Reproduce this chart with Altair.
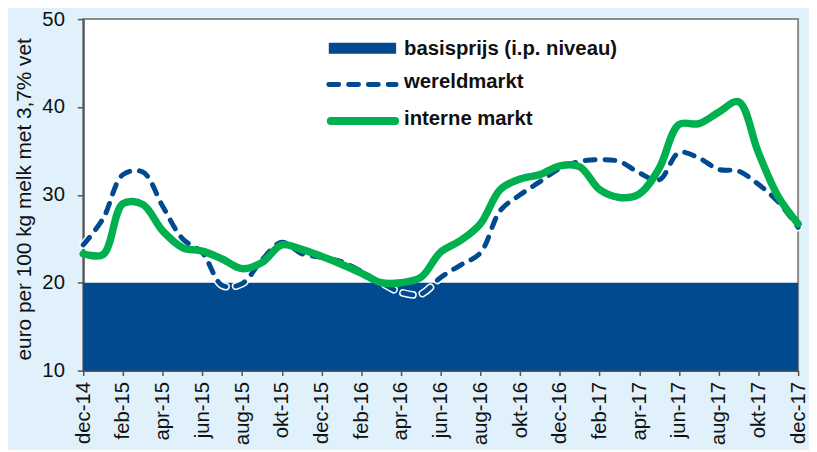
import json
import altair as alt
import pandas as pd

months = ["dec-14", "jan-15", "feb-15", "mrt-15", "apr-15", "mei-15", "jun-15", "jul-15",
          "aug-15", "sep-15", "okt-15", "nov-15", "dec-15", "jan-16", "feb-16", "mrt-16",
          "apr-16", "mei-16", "jun-16", "jul-16", "aug-16", "sep-16", "okt-16", "nov-16",
          "dec-16", "jan-17", "feb-17", "mrt-17", "apr-17", "mei-17", "jun-17", "jul-17",
          "aug-17", "sep-17", "okt-17", "nov-17", "dec-17"]

wereldmarkt = [24.3, 27.3, 32.3, 32.6, 28.7, 25.0, 23.4, 19.7, 19.9, 22.6, 24.6, 23.3, 22.9,
               22.4, 21.3, 20.0, 18.9, 18.7, 20.6, 22.0, 23.4, 28.2, 30.0, 31.5, 33.0, 33.8,
               34.0, 33.8, 32.5, 31.7, 34.8, 34.2, 32.9, 32.7, 31.2, 29.2, 26.3]

interne_markt = [23.3, 23.2, 29.0, 28.9, 25.9, 24.0, 23.6, 22.7, 21.6, 22.3, 24.3, 23.8, 23.0,
                 22.1, 21.1, 20.0, 20.0, 20.6, 23.5, 24.8, 26.7, 30.6, 31.8, 32.3, 33.3, 33.2,
                 30.6, 29.7, 30.1, 33.0, 38.0, 38.1, 39.4, 40.6, 34.8, 29.8, 26.7]

basisprijs = [20.0] * len(months)

legend_labels = ["basisprijs (i.p. niveau)", "wereldmarkt", "interne markt"]
y_title = "euro per 100 kg melk met 3,7% vet"

BLUE = "#014a8f"
GREEN = "#00b04f"
BG = "#e0f1fb"
FONT = "Liberation Sans"

df = pd.DataFrame({
    "i": list(range(len(months))),
    "month": months,
    "wereldmarkt": wereldmarkt,
    "interne": interne_markt,
    "basis": basisprijs,
})

label_expr = ("datum.value % 2 == 0 ? " + json.dumps(months) + "[datum.value] : ''")

x_enc = alt.X(
    "i:Q",
    scale=alt.Scale(domain=[0, len(months) - 1], nice=False, zero=False),
    axis=alt.Axis(
        values=list(range(len(months))),
        labelExpr=label_expr,
        labelAngle=270,
        labelAlign="right",
        labelBaseline="middle",
        labelPadding=6,
        tickSize=5,
        title=None,
        grid=False,
        labelOverlap=False,
        labelFontSize=20.5,
    ),
)
y_scale = alt.Scale(domain=[10, 50], nice=False, zero=False)
y_axis = alt.Axis(
    values=[10, 20, 30, 40, 50],
    tickSize=6,
    labelPadding=13,
    labelFontSize=20.5,
    grid=False,
    title=y_title,
    titleFontSize=21,
    titleFontWeight="normal",
    titleAngle=270,
    titleAlign="center",
    titleBaseline="middle",
    titleX=-59,
    titleY=181.5,
)

base = alt.Chart(df)

area = base.mark_area(color=BLUE, opacity=1).encode(
    x=x_enc,
    y=alt.Y("basis:Q", scale=y_scale, axis=y_axis),
    y2=alt.datum(10),
)

dash_under = base.mark_line(
    color="white", strokeWidth=8, strokeDash=[10, 10], strokeCap="round",
    interpolate="catmull-rom",
).encode(x="i:Q", y="wereldmarkt:Q")

dash_line = base.mark_line(
    color=BLUE, strokeWidth=5, strokeDash=[10, 10], strokeCap="round",
    interpolate="catmull-rom",
).encode(x="i:Q", y="wereldmarkt:Q")

green_line = base.mark_line(
    color=GREEN, strokeWidth=7.5, strokeCap="round", strokeJoin="round",
    interpolate="catmull-rom",
).encode(x="i:Q", y="interne:Q")

# manual legend
leg_df = pd.DataFrame({"label": legend_labels})

leg1 = alt.Chart(leg_df.iloc[[0]]).mark_rule(color=BLUE, strokeWidth=11).encode(
    x=alt.value(248), x2=alt.value(316), y=alt.value(29.5))
leg2 = alt.Chart(leg_df.iloc[[1]]).mark_rule(
    color=BLUE, strokeWidth=5, strokeDash=[10, 10], strokeCap="round").encode(
    x=alt.value(248), x2=alt.value(316), y=alt.value(66))
leg3 = alt.Chart(leg_df.iloc[[2]]).mark_rule(
    color=GREEN, strokeWidth=8, strokeCap="round").encode(
    x=alt.value(250), x2=alt.value(315), y=alt.value(103))


def leg_text(idx, ypix):
    return alt.Chart(leg_df.iloc[[idx]]).mark_text(
        align="left", baseline="middle", fontSize=20.5, fontWeight="bold",
        font=FONT, color="#111111").encode(
        x=alt.value(324), y=alt.value(ypix), text="label:N")


chart = alt.layer(
    area, dash_under, dash_line, green_line,
    leg1, leg2, leg3,
    leg_text(0, 30), leg_text(1, 64), leg_text(2, 101),
).properties(
    width=722,
    height=355,
    background=BG,
    padding={"left": 76, "top": 9, "right": 11, "bottom": 78},
    autosize=alt.AutoSizeParams(type="none"),
).configure_view(
    fill="white", stroke="#8c8c8c", strokeWidth=2,
).configure_axis(
    labelFont=FONT, titleFont=FONT, labelColor="#111111", titleColor="#111111",
    domainColor="#555555", domainWidth=2, tickColor="#555555", tickWidth=1.5,
)

chart.save("out.html", embed_options={"renderer": "svg", "actions": False})
